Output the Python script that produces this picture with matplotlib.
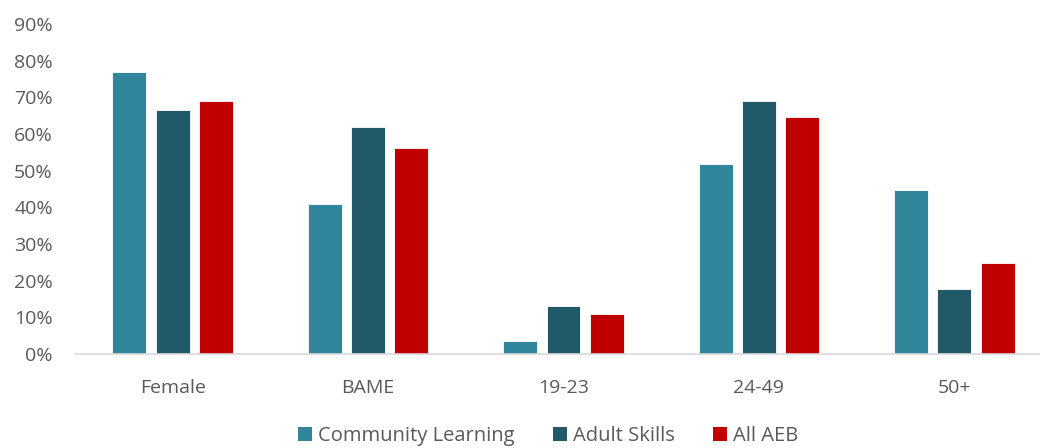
import matplotlib.pyplot as plt
import numpy as np
from matplotlib.patches import Patch

categories = ["Female", "BAME", "19-23", "24-49", "50+"]
community_learning = [0.77, 0.409, 0.035, 0.518, 0.448]
adult_skills = [0.666, 0.619, 0.131, 0.691, 0.178]
all_aeb = [0.689, 0.563, 0.109, 0.645, 0.247]
series_names = ["Community Learning", "Adult Skills", "All AEB"]
colors = ["#31869B", "#215968", "#C00000"]
y_ticks = [0.0, 0.1, 0.2, 0.3, 0.4, 0.5, 0.6, 0.7, 0.8, 0.9]

plt.rcParams["font.family"] = ["Open Sans", "DejaVu Sans"]
text_color = "#595959"

fig = plt.figure(figsize=(10.4, 4.48), dpi=100)
ax = fig.add_axes([75 / 1040, 1 - 354 / 448, (1052 - 75) / 1040, (354 - 24) / 448])

x = np.arange(len(categories))
width = 0.174
step = 0.222
for i, (vals, name, c) in enumerate(zip([community_learning, adult_skills, all_aeb], series_names, colors)):
    ax.bar(x + (i - 1) * step, vals, width, color=c, edgecolor="#FFFFFF", linewidth=0.6, label=name)

ax.set_xlim(-0.5, len(categories) - 0.5)
ax.set_ylim(0, 0.9)
ax.set_yticks(y_ticks)
ax.set_yticklabels([f"{int(round(t * 100))}%" for t in y_ticks])
ax.set_xticks(x)
ax.set_xticklabels(categories)
ax.tick_params(axis="y", length=0, pad=16, labelsize=14, labelcolor=text_color)
ax.tick_params(axis="x", length=0, pad=18, labelsize=14, labelcolor=text_color)
for s in ["top", "right", "left"]:
    ax.spines[s].set_visible(False)
ax.spines["bottom"].set_color("#D9D9D9")
ax.spines["bottom"].set_linewidth(1.2)

handles = [Patch(facecolor=c, edgecolor="none") for c in colors]
leg = fig.legend(handles, series_names, loc="center", bbox_to_anchor=(548 / 1040, 1 - 436 / 448),
                 ncol=3, frameon=False, fontsize=14.5, handlelength=0.7, handleheight=0.7,
                 handletextpad=0.3, columnspacing=1.9, labelcolor=text_color, borderpad=0)

fig.savefig("out.png", dpi=100)
